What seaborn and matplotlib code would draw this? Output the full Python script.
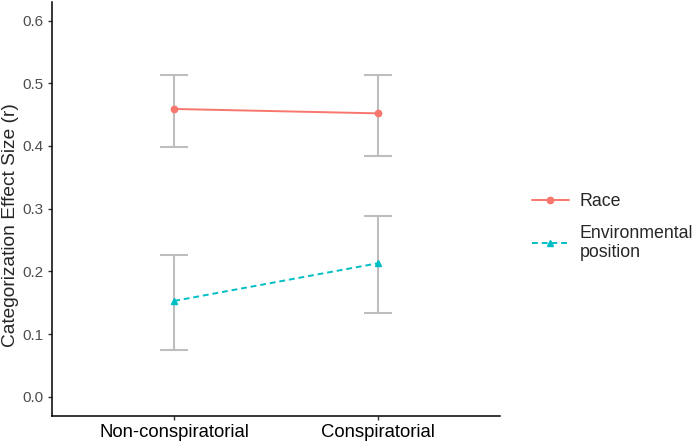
import pandas as pd
import matplotlib.pyplot as plt
import seaborn as sns

conditions = ["Non-conspiratorial", "Conspiratorial"]
categories = ["Race", "Environmental\nposition"]
effect_race = [0.459, 0.452]
lower_race = [0.398, 0.384]
upper_race = [0.513, 0.513]
effect_env = [0.153, 0.213]
lower_env = [0.075, 0.133]
upper_env = [0.226, 0.288]

df = pd.DataFrame({
    "Condition": conditions * 2,
    "Category": [categories[0]] * 2 + [categories[1]] * 2,
    "r": effect_race + effect_env,
    "lo": lower_race + lower_env,
    "hi": upper_race + upper_env,
})

sns.set_style("white")
plt.rcParams["font.family"] = ["Liberation Sans", "DejaVu Sans"]

fig = plt.figure(figsize=(6.94, 4.43), dpi=100)
ax = fig.add_axes([52 / 694, (443 - 415.7) / 443, 448 / 694, 414 / 443])

# confidence intervals in grey behind the points
pos = df["Condition"].map({c: i for i, c in enumerate(conditions)})
ax.errorbar(pos, df["r"], yerr=[df["r"] - df["lo"], df["hi"] - df["r"]],
            fmt="none", ecolor="#BEBEBE", elinewidth=1.5, capsize=10,
            capthick=1.5, zorder=1)

sns.pointplot(data=df, x="Condition", y="r", hue="Category", order=conditions,
              hue_order=categories, palette=["#F8766D", "#00BFC4"],
              markers=["o", "^"], linestyles=["-", (0, (3, 2))], errorbar=None,
              markersize=4.5, linewidth=1.4, ax=ax, zorder=3)

ax.set_xlim(-0.6, 1.6)
ax.set_ylim(-0.03, 0.63)
ax.set_yticks([0, 0.1, 0.2, 0.3, 0.4, 0.5, 0.6])
ax.set_yticklabels(["0.0", "0.1", "0.2", "0.3", "0.4", "0.5", "0.6"])
ax.tick_params(axis="y", labelsize=11, labelcolor="#4D4D4D", length=3,
               color="#333333", width=1, left=True, pad=3)
ax.tick_params(axis="x", labelsize=13.3, labelcolor="black", length=3,
               color="#333333", width=1, bottom=True, pad=3)
ax.set_xlabel("")
ax.set_ylabel("Categorization Effect Size (r)", fontsize=13.8)
ax.yaxis.set_label_coords(-0.074, 0.46)
sns.despine(ax=ax)
for s in ["left", "bottom"]:
    ax.spines[s].set_color("black")
    ax.spines[s].set_linewidth(1.1)

handles, labels = ax.get_legend_handles_labels()
ax.legend(handles, labels, loc="center left", bbox_to_anchor=(1.035, 0.455),
          frameon=False, fontsize=12.8, handlelength=2.1, handletextpad=0.6,
          labelspacing=0.8)

fig.savefig("out.png", dpi=100)
